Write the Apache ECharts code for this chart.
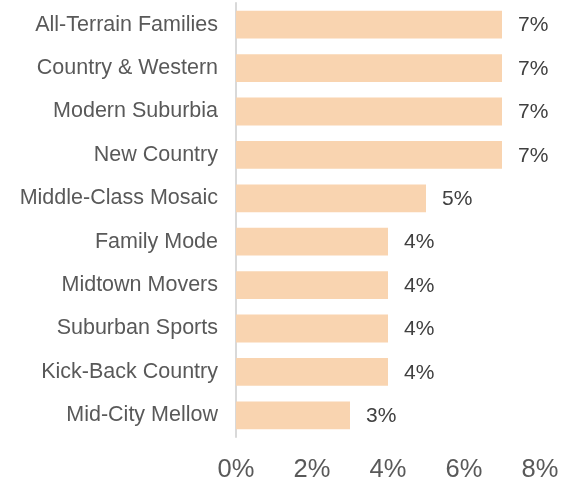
<!DOCTYPE html>
<html>
<head>
<meta charset="utf-8">
<script src="https://cdn.jsdelivr.net/npm/echarts@6/dist/echarts.min.js"></script>
<style>
  html, body { margin: 0; padding: 0; background: #ffffff; }
  #chart { width: 562px; height: 483px; }
</style>
</head>
<body>
<div id="chart"></div>
<script>
// Segment shares, listed top to bottom
const categories = [
  'All-Terrain Families',
  'Country & Western',
  'Modern Suburbia',
  'New Country',
  'Middle-Class Mosaic',
  'Family Mode',
  'Midtown Movers',
  'Suburban Sports',
  'Kick-Back Country',
  'Mid-City Mellow'
];
const shares = [7, 7, 7, 7, 5, 4, 4, 4, 4, 3];
const axisTicks = [0, 2, 4, 6, 8];

const chart = echarts.init(document.getElementById('chart'), null, { renderer: 'canvas' });
const font = 'Liberation Sans, Arial, Helvetica, sans-serif';

chart.setOption({
  animation: false,
  backgroundColor: '#ffffff',
  grid: { left: 236, right: 22, top: 3, bottom: 46, containLabel: false },
  xAxis: {
    type: 'value',
    min: axisTicks[0],
    max: axisTicks[axisTicks.length - 1],
    interval: axisTicks[1] - axisTicks[0],
    axisLine: { show: false },
    axisTick: { show: false },
    splitLine: { show: false },
    axisLabel: {
      margin: 20,
      color: '#595959',
      fontFamily: font,
      fontSize: 25.5,
      formatter: v => v + '%'
    }
  },
  yAxis: {
    type: 'category',
    inverse: true,
    data: categories,
    axisLine: { show: true, lineStyle: { color: '#d9d9d9', width: 2 } },
    axisTick: { show: false },
    axisLabel: {
      margin: 18,
      color: '#595959',
      fontFamily: font,
      fontSize: 21.5
    }
  },
  series: [{
    type: 'bar',
    data: shares,
    barCategoryGap: '36%',
    itemStyle: { color: '#F9D4B0' },
    label: {
      show: true,
      position: 'right',
      distance: 16,
      offset: [0, 1],
      color: '#404040',
      fontFamily: font,
      fontSize: 21,
      formatter: p => p.value + '%'
    }
  }]
});
</script>
</body>
</html>
